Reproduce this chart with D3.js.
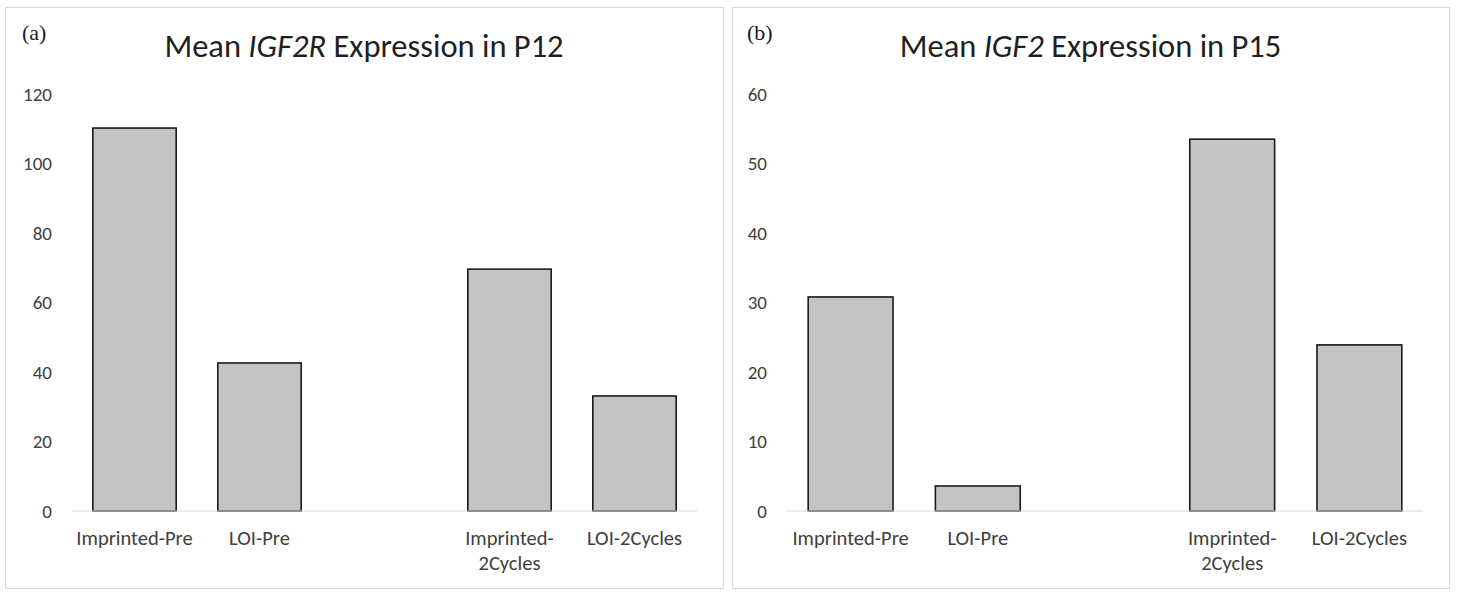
<!DOCTYPE html>
<html>
<head>
<meta charset="utf-8">
<script src="https://cdn.jsdelivr.net/npm/d3@7"></script>
<style>
  html, body { margin: 0; padding: 0; background: #fff; }
  svg { display: block; }
</style>
</head>
<body>
<svg id="chart" width="1458" height="598"></svg>
<script>
// ---- data ----
const categories = ["Imprinted-Pre", "LOI-Pre", "", "Imprinted-2Cycles", "LOI-2Cycles"];
const igf2rValues = [110.2, 42.6, null, 69.6, 33.1];
const igf2Values = [30.8, 3.6, null, 53.5, 23.9];
const igf2rTicks = [0, 20, 40, 60, 80, 100, 120];
const igf2Ticks = [0, 10, 20, 30, 40, 50, 60];
const panelLetters = ["(a)", "(b)"];
const titleParts = [
  ["Mean ", "IGF2R", " Expression in P12"],
  ["Mean ", "IGF2", " Expression in P15"]
];

const svg = d3.select("#chart");
const sansFont = "Carlito, Calibri, Lato, 'Open Sans', sans-serif";

const panels = [
  { box: [5, 7, 718, 581], plot: [72, 697], y0: 511, y1: 94, values: igf2rValues, ticks: igf2rTicks, max: 120, letter: panelLetters[0], title: titleParts[0], letterX: 22 },
  { box: [732, 7, 717, 581], plot: [787, 1423], y0: 511, y1: 94, values: igf2Values, ticks: igf2Ticks, max: 60, letter: panelLetters[1], title: titleParts[1], letterX: 747 }
];

panels.forEach(p => {
  const g = svg.append("g");
  // panel frame
  g.append("rect")
    .attr("x", p.box[0] + 0.5).attr("y", p.box[1] + 0.5)
    .attr("width", p.box[2]).attr("height", p.box[3])
    .attr("fill", "#fff").attr("stroke", "#d9d9d9").attr("stroke-width", 1);

  const x = d3.scaleBand().domain(categories).range(p.plot).paddingInner(0.333).paddingOuter(0.1665);
  const y = d3.scaleLinear().domain([0, p.max]).range([p.y0, p.y1]);

  // y axis labels
  const yAxis = d3.axisLeft(y).tickValues(p.ticks).tickSize(0).tickPadding(20);
  const ya = g.append("g").attr("transform", `translate(${p.plot[0]},0)`).call(yAxis);
  ya.select(".domain").remove();
  ya.selectAll("text").attr("font-family", sansFont).attr("font-size", 19).attr("fill", "#404040");

  // bars
  g.selectAll("rect.bar")
    .data(categories.map((c, i) => ({ c, v: p.values[i] })).filter(d => d.v != null))
    .join("rect").attr("class", "bar")
    .attr("x", d => x(d.c)).attr("width", x.bandwidth())
    .attr("y", d => y(d.v)).attr("height", d => y(0) - y(d.v))
    .attr("fill", "#c4c4c4").attr("stroke", "#1a1a1a").attr("stroke-width", 1.6);

  // baseline / x axis
  const xAxis = d3.axisBottom(x).tickSize(0).tickPadding(0);
  const xa = g.append("g").attr("transform", `translate(0,${p.y0})`).call(xAxis);
  xa.select(".domain").attr("stroke", "#d9d9d9").attr("stroke-width", 1.2).attr("d", `M${p.plot[0]},0H${p.plot[1]}`);
  xa.selectAll(".tick text").each(function(d) {
    const t = d3.select(this);
    t.text(null).attr("font-family", sansFont).attr("font-size", 20.5).attr("fill", "#404040").attr("y", 0).attr("dy", null);
    let lines = [d];
    const probe = t.append("tspan").text(d);
    const w = probe.node().getComputedTextLength();
    probe.remove();
    if (w > x.step() + 10 && d.indexOf("-") >= 0) {
      const k = d.indexOf("-") + 1;
      lines = [d.slice(0, k), d.slice(k)];
    }
    lines.forEach((ln, i) => {
      t.append("tspan").attr("x", 0).attr("y", 34 + i * 25).text(ln);
    });
  });

  // panel letter
  g.append("text").attr("x", p.letterX).attr("y", 40)
    .attr("font-family", "'Liberation Serif', 'Times New Roman', serif").attr("font-size", 22).attr("fill", "#1a1a1a")
    .text(p.letter);

  // title
  const cx = p.box[0] + p.box[2] / 2;
  const tt = g.append("text").attr("x", cx).attr("y", 57).attr("text-anchor", "middle")
    .attr("font-family", sansFont).attr("font-size", 32.5).attr("fill", "#1f1f1f");
  p.title.forEach((s, i) => {
    tt.append("tspan").attr("font-style", i === 1 ? "italic" : null).text(s);
  });
});
</script>
</body>
</html>
